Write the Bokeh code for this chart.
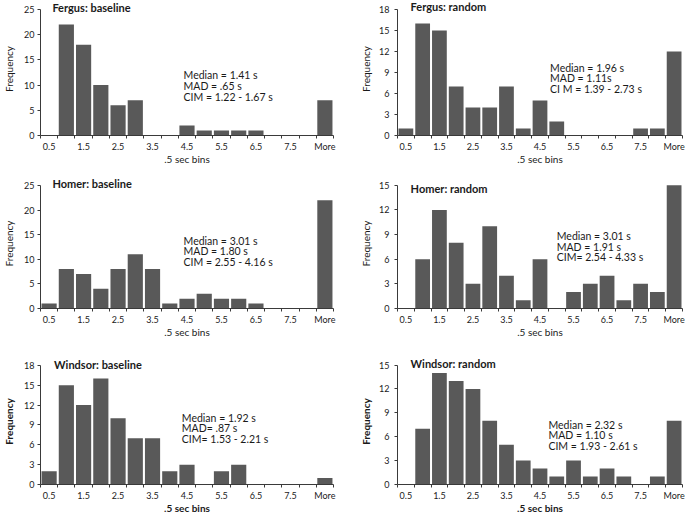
from bokeh.plotting import figure
from bokeh.models import Range1d, FixedTicker, Label
from bokeh.layouts import column, row
from bokeh.embed import file_html
from bokeh.resources import INLINE

# ---------------- data ----------------
bins = ["0.5", "1", "1.5", "2", "2.5", "3", "3.5", "4", "4.5", "5",
        "5.5", "6", "6.5", "7", "7.5", "8", "More"]
tick_labels = ["0.5", "1.5", "2.5", "3.5", "4.5", "5.5", "6.5", "7.5", "More"]

fergus_baseline = [0, 22, 18, 10, 6, 7, 0, 0, 2, 1, 1, 1, 1, 0, 0, 0, 7]
fergus_random = [1, 16, 15, 7, 4, 4, 7, 1, 5, 2, 0, 0, 0, 0, 1, 1, 12]
homer_baseline = [1, 8, 7, 4, 8, 11, 8, 1, 2, 3, 2, 2, 1, 0, 0, 0, 22]
homer_random = [0, 6, 12, 8, 3, 10, 4, 1, 6, 0, 2, 3, 4, 1, 3, 2, 15]
windsor_baseline = [2, 15, 12, 16, 10, 7, 7, 2, 3, 0, 2, 3, 0, 0, 0, 0, 1]
windsor_random = [0, 7, 14, 13, 12, 8, 5, 3, 2, 1, 3, 1, 2, 1, 0, 1, 8]

titles = ["Fergus: baseline", "Fergus: random", "Homer: baseline",
          "Homer: random", "Windsor: baseline", "Windsor: random"]
y_max = [25, 18, 25, 15, 18, 15]
y_step = [5, 3, 5, 3, 3, 3]
stats = [
    ["Median = 1.41 s", "MAD = .65 s", "CIM =   1.22 - 1.67 s"],
    ["Median = 1.96 s", "MAD = 1.11s", "CI M = 1.39  - 2.73  s"],
    ["Median = 3.01 s", "MAD = 1.80 s", "CIM = 2.55 - 4.16 s"],
    ["Median = 3.01 s", "MAD = 1.91 s", "CIM=  2.54 - 4.33 s"],
    ["Median = 1.92 s", "MAD=  .87 s", "CIM= 1.53 - 2.21 s"],
    ["Median = 2.32 s", "MAD = 1.10 s", "CIM =  1.93 - 2.61 s"],
]
series = [fergus_baseline, fergus_random, homer_baseline,
          homer_random, windsor_baseline, windsor_random]

FONT = "Lato"
BAR = "#595959"
TXT = "#1a1a1a"
AXC = "#3a3a3a"
PAD = 7  # px of frame above the top tick, so the panel title fits

# layout: (width, height, left, right, top, bottom, title_xy, stats_xy, bold_axis)
layout_cfg = [
    (340, 170, 38, 7, 0, 33, (0.19, 2), (7.8, 11.9), False),
    (345, 170, 57, 3, 2, 35, (0.28, 3), (8.6, 9.7), False),
    (340, 170, 38, 7, 8, 30, (0.19, 2), (7.8, 13.75), False),
    (345, 170, 57, 3, 5, 30, (0.28, -3), (9.0, 8.8), False),
    (340, 176, 38, 7, 18, 29, (0.29, 1), (7.7, 10.1), True),
    (345, 176, 57, 3, 13, 29, (0.28, 2), (8.5, 7.5), True),
]


def make_panel(i):
    w, h, bl, br, bt, bb, tpos, spos, bold = layout_cfg[i]
    counts = series[i]
    xs = list(range(len(bins)))
    frame_h = h - bt - bb
    y_end = y_max[i] * frame_h / (frame_h - PAD)
    p = figure(width=w, height=h, output_backend="svg", toolbar_location=None,
               x_range=Range1d(-0.5, len(bins) - 0.5),
               y_range=Range1d(0, y_end),
               min_border_left=bl, min_border_right=br,
               min_border_top=bt, min_border_bottom=bb)
    p.vbar(x=xs, top=counts, width=0.88, color=BAR, line_color=None)

    p.outline_line_color = None
    p.xgrid.visible = False
    p.ygrid.visible = False
    p.background_fill_color = "white"
    p.border_fill_color = "white"

    # x axis: labels every other bin, ticks at bin boundaries
    major = [k for k in xs if k % 2 == 0]
    minor = [k - 0.5 for k in range(len(bins) + 1)]
    p.xaxis.ticker = FixedTicker(ticks=major, minor_ticks=minor)
    p.xaxis.major_label_overrides = {k: bins[k] for k in major}
    p.xaxis.major_tick_out = 0
    p.xaxis.major_tick_in = 0
    p.xaxis.minor_tick_out = 3
    p.xaxis.minor_tick_in = 0
    p.xaxis.major_label_standoff = 2
    p.xaxis.axis_label = ".5 sec bins"
    p.xaxis.axis_label_standoff = -2

    # y axis
    p.yaxis.ticker = FixedTicker(ticks=list(range(0, y_max[i] + 1, y_step[i])))
    p.yaxis.bounds = (0, y_max[i])
    p.yaxis.major_tick_out = 3
    p.yaxis.major_tick_in = 0
    p.yaxis.minor_tick_out = 0
    p.yaxis.minor_tick_in = 0
    p.yaxis.major_label_standoff = 3 if bl < 45 else 5
    p.yaxis.axis_label = "Frequency"
    p.yaxis.axis_label_standoff = 6 if bl < 45 else 4

    for ax in (p.xaxis[0], p.yaxis[0]):
        ax.axis_line_color = AXC
        ax.major_tick_line_color = AXC
        ax.minor_tick_line_color = AXC
        ax.major_label_text_font = FONT
        ax.major_label_text_font_size = "9px"
        ax.major_label_text_color = TXT
        ax.axis_label_text_font = FONT
        ax.axis_label_text_font_size = "10px"
        ax.axis_label_text_color = TXT
        ax.axis_label_text_font_style = "bold" if bold else "normal"

    p.add_layout(Label(x=tpos[0], y=y_max[i], y_offset=tpos[1], text=titles[i],
                       text_font=FONT, text_font_size="11px",
                       text_font_style="bold", text_color=TXT,
                       text_baseline="middle", text_align="left"))
    for j, line in enumerate(stats[i]):
        p.add_layout(Label(x=spos[0], y=spos[1], y_offset=-10.6 * j, text=line,
                           text_font=FONT, text_font_size="10.5px",
                           text_color=TXT, text_baseline="middle",
                           text_align="left"))
    return p


panels = [make_panel(i) for i in range(6)]
layout = column(row(panels[0], panels[1]),
                row(panels[2], panels[3]),
                row(panels[4], panels[5]))

open("out.html", "w").write(file_html(layout, INLINE))
